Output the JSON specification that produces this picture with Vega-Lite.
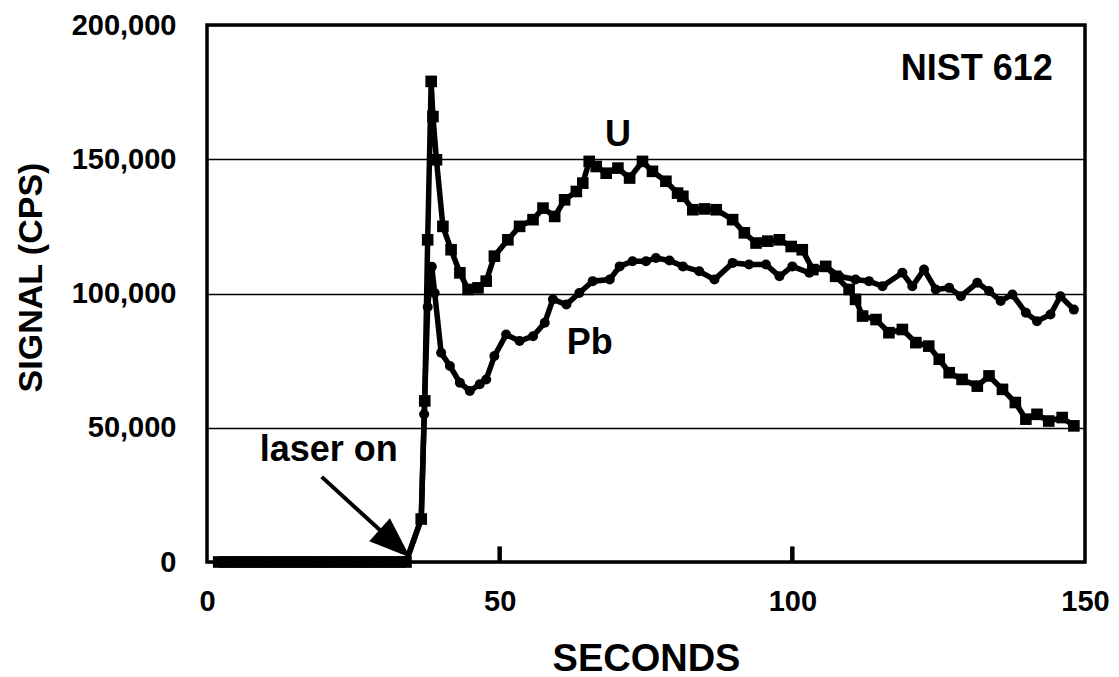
{
  "$schema": "https://vega.github.io/schema/vega-lite/v6.json",
  "width": 878,
  "height": 537,
  "autosize": "none",
  "padding": {"left": 207, "top": 25, "right": 34, "bottom": 115},
  "background": "white",
  "config": {
    "font": "Liberation Sans",
    "view": {"stroke": "black", "strokeWidth": 3.5},
    "axis": {
      "labelFont": "Liberation Sans",
      "labelFontWeight": "bold",
      "labelColor": "black",
      "titleFont": "Liberation Sans",
      "titleFontWeight": "bold",
      "titleColor": "black"
    }
  },
  "datasets": {
    "signal": [
      {"s": 2, "cps": 0, "el": "U"}, {"s": 3, "cps": 0, "el": "U"}, {"s": 4, "cps": 0, "el": "U"}, {"s": 5, "cps": 0, "el": "U"},
      {"s": 6, "cps": 0, "el": "U"}, {"s": 7, "cps": 0, "el": "U"}, {"s": 8, "cps": 0, "el": "U"}, {"s": 9, "cps": 0, "el": "U"},
      {"s": 10, "cps": 0, "el": "U"}, {"s": 11, "cps": 0, "el": "U"}, {"s": 12, "cps": 0, "el": "U"}, {"s": 13, "cps": 0, "el": "U"},
      {"s": 14, "cps": 0, "el": "U"}, {"s": 15, "cps": 0, "el": "U"}, {"s": 16, "cps": 0, "el": "U"}, {"s": 17, "cps": 0, "el": "U"},
      {"s": 18, "cps": 0, "el": "U"}, {"s": 19, "cps": 0, "el": "U"}, {"s": 20, "cps": 0, "el": "U"}, {"s": 21, "cps": 0, "el": "U"},
      {"s": 22, "cps": 0, "el": "U"}, {"s": 23, "cps": 0, "el": "U"}, {"s": 24, "cps": 0, "el": "U"}, {"s": 25, "cps": 0, "el": "U"},
      {"s": 26, "cps": 0, "el": "U"}, {"s": 27, "cps": 0, "el": "U"}, {"s": 28, "cps": 0, "el": "U"}, {"s": 29, "cps": 0, "el": "U"},
      {"s": 30, "cps": 0, "el": "U"}, {"s": 31, "cps": 0, "el": "U"}, {"s": 32, "cps": 0, "el": "U"}, {"s": 33, "cps": 0, "el": "U"},
      {"s": 34, "cps": 0, "el": "U"},
      {"s": 36.6, "cps": 16000, "el": "U"}, {"s": 37.2, "cps": 60000, "el": "U"}, {"s": 37.7, "cps": 120000, "el": "U"},
      {"s": 38.3, "cps": 179000, "el": "U"}, {"s": 38.6, "cps": 165900, "el": "U"}, {"s": 39.2, "cps": 149800, "el": "U"},
      {"s": 40.3, "cps": 125000, "el": "U"}, {"s": 41.7, "cps": 116300, "el": "U"}, {"s": 43.2, "cps": 107700, "el": "U"},
      {"s": 44.6, "cps": 101500, "el": "U"}, {"s": 46.3, "cps": 102100, "el": "U"}, {"s": 47.7, "cps": 104600, "el": "U"},
      {"s": 49.1, "cps": 113900, "el": "U"}, {"s": 51.4, "cps": 120000, "el": "U"}, {"s": 53.4, "cps": 125000, "el": "U"},
      {"s": 55.7, "cps": 127500, "el": "U"}, {"s": 57.4, "cps": 131800, "el": "U"}, {"s": 59.4, "cps": 128700, "el": "U"},
      {"s": 61.1, "cps": 134900, "el": "U"}, {"s": 63.1, "cps": 138000, "el": "U"}, {"s": 64.2, "cps": 141100, "el": "U"},
      {"s": 65.3, "cps": 149200, "el": "U"}, {"s": 66.5, "cps": 147300, "el": "U"}, {"s": 68.2, "cps": 144800, "el": "U"},
      {"s": 70.2, "cps": 146700, "el": "U"}, {"s": 72.2, "cps": 143000, "el": "U"}, {"s": 74.4, "cps": 149200, "el": "U"},
      {"s": 76.1, "cps": 145500, "el": "U"}, {"s": 78.4, "cps": 141800, "el": "U"}, {"s": 80.4, "cps": 137400, "el": "U"},
      {"s": 81.3, "cps": 136200, "el": "U"}, {"s": 83.0, "cps": 131200, "el": "U"}, {"s": 85.0, "cps": 131500, "el": "U"},
      {"s": 87.0, "cps": 131200, "el": "U"}, {"s": 89.8, "cps": 127500, "el": "U"}, {"s": 91.8, "cps": 122600, "el": "U"},
      {"s": 93.8, "cps": 118800, "el": "U"}, {"s": 95.8, "cps": 119500, "el": "U"}, {"s": 97.8, "cps": 120000, "el": "U"},
      {"s": 99.8, "cps": 117500, "el": "U"}, {"s": 101.7, "cps": 116300, "el": "U"}, {"s": 103.5, "cps": 108900, "el": "U"},
      {"s": 105.7, "cps": 110100, "el": "U"}, {"s": 107.4, "cps": 106400, "el": "U"}, {"s": 109.7, "cps": 101500, "el": "U"},
      {"s": 110.8, "cps": 97800, "el": "U"}, {"s": 112.0, "cps": 91600, "el": "U"}, {"s": 114.3, "cps": 90300, "el": "U"},
      {"s": 116.5, "cps": 85400, "el": "U"}, {"s": 118.8, "cps": 86600, "el": "U"}, {"s": 121.1, "cps": 81700, "el": "U"},
      {"s": 123.3, "cps": 80400, "el": "U"}, {"s": 125.1, "cps": 75500, "el": "U"}, {"s": 126.8, "cps": 70500, "el": "U"},
      {"s": 129.0, "cps": 68000, "el": "U"}, {"s": 131.6, "cps": 65500, "el": "U"}, {"s": 133.6, "cps": 69300, "el": "U"},
      {"s": 135.9, "cps": 64300, "el": "U"}, {"s": 138.1, "cps": 59400, "el": "U"}, {"s": 139.9, "cps": 53200, "el": "U"},
      {"s": 141.8, "cps": 55000, "el": "U"}, {"s": 143.8, "cps": 52500, "el": "U"}, {"s": 146.1, "cps": 53800, "el": "U"},
      {"s": 148.1, "cps": 50700, "el": "U"},

      {"s": 2, "cps": 0, "el": "Pb"}, {"s": 4, "cps": 0, "el": "Pb"}, {"s": 6, "cps": 0, "el": "Pb"}, {"s": 8, "cps": 0, "el": "Pb"},
      {"s": 10, "cps": 0, "el": "Pb"}, {"s": 12, "cps": 0, "el": "Pb"}, {"s": 14, "cps": 0, "el": "Pb"}, {"s": 16, "cps": 0, "el": "Pb"},
      {"s": 18, "cps": 0, "el": "Pb"}, {"s": 20, "cps": 0, "el": "Pb"}, {"s": 22, "cps": 0, "el": "Pb"}, {"s": 24, "cps": 0, "el": "Pb"},
      {"s": 26, "cps": 0, "el": "Pb"}, {"s": 28, "cps": 0, "el": "Pb"}, {"s": 30, "cps": 0, "el": "Pb"}, {"s": 32, "cps": 0, "el": "Pb"},
      {"s": 34, "cps": 0, "el": "Pb"},
      {"s": 36.6, "cps": 16000, "el": "Pb"}, {"s": 37.1, "cps": 55000, "el": "Pb"}, {"s": 37.7, "cps": 95000, "el": "Pb"},
      {"s": 38.4, "cps": 110000, "el": "Pb"}, {"s": 38.9, "cps": 100200, "el": "Pb"}, {"s": 40.0, "cps": 77900, "el": "Pb"},
      {"s": 41.5, "cps": 73000, "el": "Pb"}, {"s": 43.2, "cps": 66800, "el": "Pb"}, {"s": 44.9, "cps": 63700, "el": "Pb"},
      {"s": 46.6, "cps": 66200, "el": "Pb"}, {"s": 47.7, "cps": 68000, "el": "Pb"}, {"s": 49.1, "cps": 76700, "el": "Pb"},
      {"s": 51.1, "cps": 84700, "el": "Pb"}, {"s": 53.4, "cps": 82300, "el": "Pb"}, {"s": 55.7, "cps": 84100, "el": "Pb"},
      {"s": 57.7, "cps": 89100, "el": "Pb"}, {"s": 59.1, "cps": 97800, "el": "Pb"}, {"s": 61.4, "cps": 95900, "el": "Pb"},
      {"s": 63.6, "cps": 100200, "el": "Pb"}, {"s": 65.9, "cps": 104600, "el": "Pb"}, {"s": 68.8, "cps": 105200, "el": "Pb"},
      {"s": 70.5, "cps": 110100, "el": "Pb"}, {"s": 72.7, "cps": 112000, "el": "Pb"}, {"s": 75.0, "cps": 112000, "el": "Pb"},
      {"s": 76.7, "cps": 113200, "el": "Pb"}, {"s": 79.0, "cps": 112300, "el": "Pb"}, {"s": 81.3, "cps": 110100, "el": "Pb"},
      {"s": 84.1, "cps": 108300, "el": "Pb"}, {"s": 86.7, "cps": 105200, "el": "Pb"}, {"s": 89.8, "cps": 111400, "el": "Pb"},
      {"s": 92.6, "cps": 110800, "el": "Pb"}, {"s": 95.5, "cps": 110800, "el": "Pb"}, {"s": 97.8, "cps": 106400, "el": "Pb"},
      {"s": 100.0, "cps": 110100, "el": "Pb"}, {"s": 102.9, "cps": 107700, "el": "Pb"}, {"s": 105.7, "cps": 110100, "el": "Pb"},
      {"s": 108.0, "cps": 106400, "el": "Pb"}, {"s": 110.8, "cps": 105200, "el": "Pb"}, {"s": 113.1, "cps": 104600, "el": "Pb"},
      {"s": 115.4, "cps": 102700, "el": "Pb"}, {"s": 118.8, "cps": 107700, "el": "Pb"}, {"s": 120.5, "cps": 102700, "el": "Pb"},
      {"s": 122.5, "cps": 108900, "el": "Pb"}, {"s": 124.5, "cps": 101500, "el": "Pb"}, {"s": 126.8, "cps": 102100, "el": "Pb"},
      {"s": 128.8, "cps": 99000, "el": "Pb"}, {"s": 131.6, "cps": 104000, "el": "Pb"}, {"s": 133.6, "cps": 100900, "el": "Pb"},
      {"s": 135.6, "cps": 97200, "el": "Pb"}, {"s": 137.6, "cps": 99600, "el": "Pb"}, {"s": 139.9, "cps": 92800, "el": "Pb"},
      {"s": 141.8, "cps": 89700, "el": "Pb"}, {"s": 144.1, "cps": 92200, "el": "Pb"}, {"s": 145.8, "cps": 99000, "el": "Pb"},
      {"s": 148.1, "cps": 94000, "el": "Pb"}
    ],
    "notes": [
      {"s": 131.5, "cps": 183600, "label": "NIST 612"},
      {"s": 70.2, "cps": 159000, "label": "U"},
      {"s": 65.4, "cps": 81500, "label": "Pb"},
      {"s": 20.8, "cps": 41700, "label": "laser on"}
    ],
    "arrow": [
      {"s": 19.6, "cps": 31700, "s2": 33.0, "cps2": 5000}
    ],
    "head": [
      {"s": 32.1, "cps": 6850}
    ],
    "marks50": [
      {"s": 50, "cps": 0, "top": 5800},
      {"s": 100, "cps": 0, "top": 5800}
    ]
  },
  "encoding": {
    "x": {
      "field": "s", "type": "quantitative",
      "scale": {"domain": [0, 150], "nice": false, "zero": false},
      "axis": {
        "title": "SECONDS",
        "values": [0, 50, 100, 150],
        "format": "d",
        "grid": false,
        "domain": false,
        "ticks": false,
        "labelFontSize": 29,
        "labelPadding": 25,
        "labelFlush": false,
        "titleFontSize": 38,
        "titleBaseline": "alphabetic",
        "titleY": 108
      }
    },
    "y": {
      "field": "cps", "type": "quantitative",
      "scale": {"domain": [0, 200000], "nice": false},
      "axis": {
        "title": "SIGNAL (CPS)",
        "values": [0, 50000, 100000, 150000, 200000],
        "format": ",d",
        "grid": true,
        "gridColor": "black",
        "gridWidth": 1.6,
        "gridOpacity": 1,
        "domain": false,
        "ticks": false,
        "labelFontSize": 29,
        "labelPadding": 31,
        "labelFlush": false,
        "titleFontSize": 34,
        "titleAngle": -90,
        "titleAlign": "center",
        "titleBaseline": "middle",
        "titleX": -176,
        "titleY": 252
      }
    }
  },
  "layer": [
    {
      "data": {"name": "signal"},
      "mark": {"type": "line", "color": "black", "strokeWidth": 5.5, "strokeJoin": "miter"},
      "encoding": {"detail": {"field": "el"}}
    },
    {
      "data": {"name": "signal"},
      "mark": {"type": "point", "filled": true, "opacity": 1, "color": "black"},
      "encoding": {
        "shape": {"field": "el", "type": "nominal", "scale": {"domain": ["U", "Pb"], "range": ["square", "circle"]}, "legend": null},
        "size": {"field": "el", "type": "nominal", "scale": {"domain": ["U", "Pb"], "range": [135, 100]}, "legend": null}
      }
    },
    {
      "data": {"name": "arrow"},
      "mark": {"type": "rule", "color": "black", "strokeWidth": 4},
      "encoding": {
        "x2": {"field": "s2"},
        "y2": {"field": "cps2"}
      }
    },
    {
      "data": {"name": "head"},
      "mark": {"type": "point", "filled": true, "opacity": 1, "color": "black", "shape": "M1,0L-1,-0.75L-1,0.75Z", "size": 1700, "angle": 42}
    },
    {
      "data": {"name": "notes"},
      "mark": {"type": "text", "font": "Liberation Sans", "fontWeight": "bold", "fontSize": 36, "color": "black", "align": "center", "baseline": "middle"},
      "encoding": {"text": {"field": "label"}}
    },
    {
      "data": {"name": "marks50"},
      "mark": {"type": "rule", "color": "black", "strokeWidth": 4.5, "strokeCap": "butt"},
      "encoding": {
        "x2": {"field": "s"},
        "y2": {"field": "top"}
      }
    }
  ]
}
